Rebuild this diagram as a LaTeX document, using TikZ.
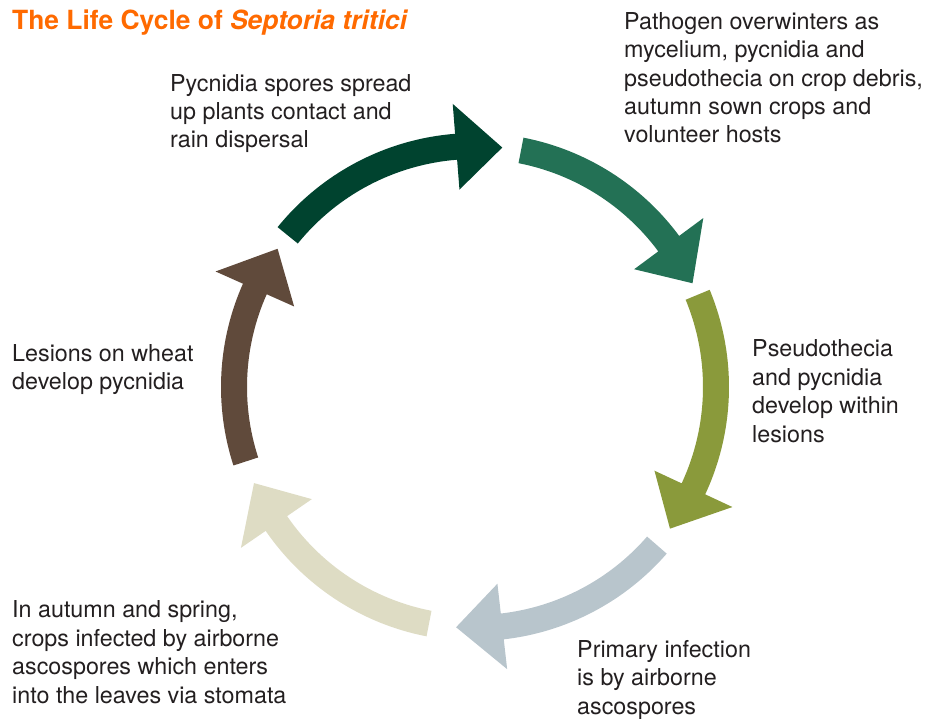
\documentclass[tikz,border=0pt]{standalone}
\usepackage{fontspec}
\setmainfont{TeX Gyre Heros}
\usepackage{xcolor}
\usepackage{tikz}
\usetikzlibrary{positioning}
\usetikzlibrary{calc}
\definecolor{titleorange}{HTML}{FF6A00}
\definecolor{textgray}{HTML}{231F20}
\definecolor{darkgreen}{HTML}{00432F}
\definecolor{midgreen}{HTML}{237155}
\definecolor{olive}{HTML}{8A9A3B}
\definecolor{greyblue}{HTML}{B8C5CC}
\definecolor{beige}{HTML}{DEDCC4}
\definecolor{brown}{HTML}{604A3B}
\tikzstyle{stagetext} = [anchor=base west, align=left, inner sep=0pt, text=textgray, font=\fontsize{23.3}{28.4}\selectfont]
\tikzstyle{titletext} = [anchor=base west, inner sep=0pt, text=titleorange, font=\fontsize{26.4}{30}\selectfont\bfseries]
% ring radii and head size
\def\rmid{241}\def\rin{228}\def\rout{254}
\def\hin{198}\def\hout{284}\def\hlen{11}
\newcommand{\cyclearrow}[3]{% #1 start angle, #2 tip angle, #3 colour
\fill[#3] (#1:\rout) arc[start angle=#1, end angle={#2+\hlen}, radius=\rout] -- ({#2+\hlen}:\hout) -- (#2:\rmid) -- ({#2+\hlen}:\hin) -- ({#2+\hlen}:\rin) arc[start angle={#2+\hlen}, end angle=#1, radius=\rin] -- cycle;}

\begin{document}
\begin{tikzpicture}[x=1pt,y=1pt]
\useasboundingbox (0,0) rectangle (928,718);
\node[titletext] (title) at (12,688) {The Life Cycle of \itshape Septoria tritici};
\begin{scope}[shift={(475,331)}]
\cyclearrow{141}{83.5}{darkgreen}
\cyclearrow{79}{25.5}{midgreen}
\cyclearrow{22.5}{-36}{olive}
\cyclearrow{-41}{-94.5}{greyblue}
\cyclearrow{-101}{-156.5}{beige}
\cyclearrow{-162}{-215}{brown}
\end{scope}
% multi-line nodes sit on their last baseline
\node[stagetext] (spread) at (170,570) {Pycnidia spores spread\\up plants contact and\\rain dispersal};
\node[stagetext] (overwinter) at (624,575) {Pathogen overwinters as\\mycelium, pycnidia and\\pseudothecia on crop debris,\\autumn sown crops and\\volunteer hosts};
\node[stagetext] (develop) at (752,276) {Pseudothecia\\and pycnidia\\develop within\\lesions};
\node[stagetext] (primary) at (577,4) {Primary infection\\is by airborne\\ascospores};
\node[stagetext] (infect) at (12,15) {In autumn and spring,\\crops infected by airborne\\ascospores which enters\\into the leaves via stomata};
\node[stagetext] (lesions) at (12,328) {Lesions on wheat\\develop pycnidia};
\end{tikzpicture}
\end{document}
